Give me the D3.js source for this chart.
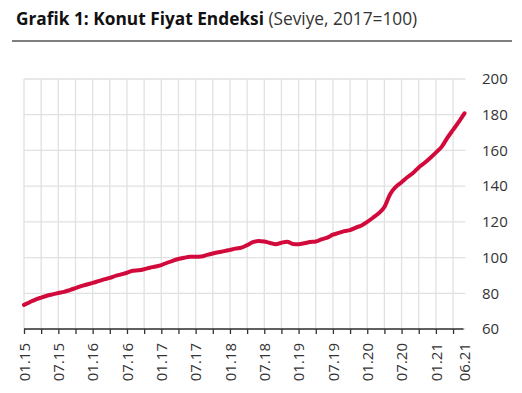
<!DOCTYPE html>
<html>
<head>
<meta charset="utf-8">
<script src="https://cdn.jsdelivr.net/npm/d3@7"></script>
<style>
  body { margin: 0; background: #fff; }
  svg { display: block; font-family: "Open Sans", sans-serif; }
</style>
</head>
<body>
<svg></svg>
<script>
let months = [
  "01.15","02.15","03.15","04.15","05.15","06.15","07.15","08.15","09.15","10.15","11.15","12.15",
  "01.16","02.16","03.16","04.16","05.16","06.16","07.16","08.16","09.16","10.16","11.16","12.16",
  "01.17","02.17","03.17","04.17","05.17","06.17","07.17","08.17","09.17","10.17","11.17","12.17",
  "01.18","02.18","03.18","04.18","05.18","06.18","07.18","08.18","09.18","10.18","11.18","12.18",
  "01.19","02.19","03.19","04.19","05.19","06.19","07.19","08.19","09.19","10.19","11.19","12.19",
  "01.20","02.20","03.20","04.20","05.20","06.20","07.20","08.20","09.20","10.20","11.20","12.20",
  "01.21","02.21","03.21","04.21","05.21","06.21"
];

let values = [
  73.5, 75.0, 76.5, 77.6, 78.6, 79.4, 80.2, 80.8, 81.8, 82.9, 84.0, 84.9,
  85.8, 86.8, 87.8, 88.6, 89.7, 90.6, 91.5, 92.6, 92.9, 93.5, 94.3, 95.0,
  95.8, 97.1, 98.2, 99.2, 99.9, 100.5, 100.5, 100.6, 101.5, 102.3, 103.0, 103.6,
  104.3, 105.0, 105.6, 107.0, 108.6, 109.3, 109.0, 108.2, 107.5, 108.3, 108.9, 107.6,
  107.5, 108.0, 108.7, 109.0, 110.2, 111.2, 112.8, 113.8, 114.8, 115.4, 116.8, 118.0,
  120.0, 122.3, 124.8, 128.3, 135.5, 139.6, 142.2, 145.0, 147.4, 150.5, 153.0, 155.8,
  158.8, 162.0, 167.0, 171.5, 176.0, 180.8
];

let yTicks = [60, 80, 100, 120, 140, 160, 180, 200];
// every third month gets a tick / gridline, 01 and 07 get a label
let tickMonths = months.filter((m, i) => i % 3 === 0);
let labelMonths = months.filter((m, i) => i % 6 === 0).concat(["06.21"]);

let width = 522;
let height = 393;
let plotLeft = 24, plotRight = 464.5, plotTop = 79, plotBottom = 329;

let svg = d3.select('svg').attr('width', width).attr('height', height);

let xScale = d3.scalePoint().domain(months).range([plotLeft, plotRight]);
let yScale = d3.scaleLinear().domain([60, 200]).range([plotBottom, plotTop]);

// title
let title = svg.append('text').attr('x', 16).attr('y', 25).style('font-size', '17.3px');
title.append('tspan').attr('font-weight', 700).attr('fill', '#111').text('Grafik 1: Konut Fiyat Endeksi');
title.append('tspan').attr('fill', '#333').text(' (Seviye, 2017=100)');

svg.append('line')
   .attr('x1', 12).attr('x2', 512).attr('y1', 41).attr('y2', 41)
   .attr('stroke', '#555').attr('stroke-width', 1.5);

// grid
svg.append('g').selectAll('line').data(yTicks).enter().append('line')
   .attr('x1', plotLeft).attr('x2', plotRight + 1)
   .attr('y1', d => yScale(d)).attr('y2', d => yScale(d))
   .attr('stroke', '#e1e1e1').attr('stroke-width', 1.3);

svg.append('g').selectAll('line').data(tickMonths).enter().append('line')
   .attr('x1', d => xScale(d)).attr('x2', d => xScale(d))
   .attr('y1', plotTop).attr('y2', plotBottom)
   .attr('stroke', '#e1e1e1').attr('stroke-width', 1.3);

// x axis
let xAxis = d3.axisBottom(xScale)
   .tickValues(tickMonths.concat(["06.21"]))
   .tickSize(5)
   .tickSizeOuter(0)
   .tickFormat(d => labelMonths.includes(d) ? d : '');

let gx = svg.append('g').attr('transform', 'translate(0,' + plotBottom + ')').call(xAxis);
gx.select('.domain').attr('stroke', '#333').attr('stroke-width', 1.3).attr('d', 'M' + plotLeft + ',0H' + (plotRight - 1));
gx.selectAll('.tick line').attr('stroke', '#333').attr('stroke-width', 1.3);
gx.selectAll('.tick').filter(d => d === '06.21').select('line').remove();
gx.selectAll('.tick text')
   .attr('transform', 'rotate(-90)')
   .attr('text-anchor', 'end')
   .attr('x', -14)
   .attr('y', 0)
   .attr('dy', '0.35em')
   .attr('fill', '#333')
   .style('font-size', '15px')
   .style('font-family', '"Open Sans", sans-serif');

// y axis labels on the right
let yAxis = d3.axisRight(yScale).tickValues(yTicks).tickSize(0).tickPadding(0);
let gy = svg.append('g').attr('transform', 'translate(482,0)').call(yAxis);
gy.select('.domain').remove();
gy.selectAll('.tick text')
   .attr('fill', '#333')
   .style('font-size', '15px')
   .style('font-family', '"Open Sans", sans-serif');

// line
let line = d3.line()
   .x((d, i) => xScale(months[i]))
   .y(d => yScale(d))
   .curve(d3.curveMonotoneX);

svg.append('path')
   .datum(values)
   .attr('d', line)
   .attr('fill', 'none')
   .attr('stroke', '#d20a3c')
   .attr('stroke-width', 4)
   .attr('stroke-linejoin', 'round')
   .attr('stroke-linecap', 'round');
</script>
</body>
</html>
